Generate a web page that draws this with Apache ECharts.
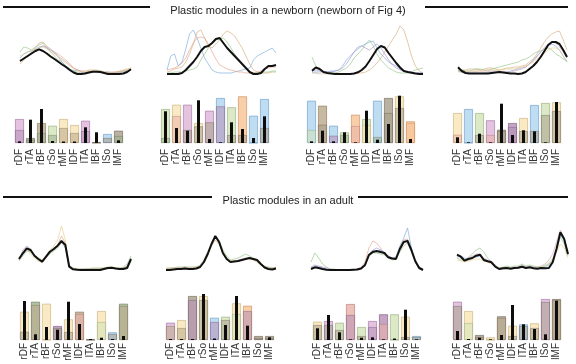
<!DOCTYPE html>
<html>
<head>
<meta charset="utf-8">
<script src="https://cdn.jsdelivr.net/npm/echarts@6/dist/echarts.min.js"></script>
<style>
  html, body { margin: 0; padding: 0; background: #fff; }
  #chart { width: 576px; height: 364px; }
</style>
</head>
<body>
<div id="chart"></div>
<script>
var muscles = ['rDF', 'rTA', 'rBF', 'rSo', 'rMF', 'lDF', 'lTA', 'lBF', 'lSo', 'lMF'];

// ---- newborn activation profiles (black = module, thin = individual muscles)
var nb1Black = [13, 15.5, 18, 20.5, 23, 24.7, 23, 20.5, 17.5, 15, 12.3, 9.5, 7, 4, 1.5, 0, 0, 0.5, 1.5, 2.3, 2.3, 2, 1, 0, 0, 0, 0, 0.5, 2, 4.7];
var nb1Thin = [
    [22, 27, 26, 24, 27, 29, 31, 26, 22, 18, 14, 12, 8, 5, 3, 2, 1, 1, 2, 3, 3, 2, 1, 1, 1, 1, 2, 3, 4, 5],
    [16, 20, 22, 23, 25, 27, 28, 26, 24, 21, 17, 12, 8, 5, 3, 4, 2, 1, 2, 2, 3, 3, 2, 2, 1, 1, 2, 2, 3, 4],
    [10, 14, 18, 22, 26, 31, 32, 28, 25, 22, 20, 17, 14, 10, 6, 4, 3, 3, 4, 4, 4, 3, 2, 2, 2, 2, 3, 4, 5, 6],
    [12, 16, 17, 20, 22, 26, 28, 27, 24, 22, 18, 15, 12, 9, 6, 4, 3, 2, 2, 3, 2, 2, 1, 1, 1, 2, 2, 3, 3, 4],
    [18, 20, 22, 24, 24, 26, 27, 25, 22, 20, 17, 14, 11, 8, 5, 3, 2, 2, 3, 3, 3, 3, 2, 1, 1, 1, 2, 3, 4, 5]
];
var nb1Cols = ['g', 'b', 't', 'p', 'y'];

var nb2Black = [0, 0, 0, 0, 1, 4, 8, 12, 17, 23, 27, 28, 31, 35, 36, 31, 26, 22, 18, 14, 10, 6, 2, 0, 0, 1, 5, 8, 8, 9];
var nb2Thin = [
    [4, 18, 20, 8, 12, 25, 40, 44, 36, 26, 16, 10, 4, 2, 1, 1, 1, 1, 2, 3, 4, 5, 6, 14, 18, 20, 22, 24, 26, 21],
    [2, 3, 5, 6, 7, 12, 20, 30, 42, 44, 36, 28, 26, 30, 34, 40, 43, 41, 38, 32, 26, 18, 10, 4, 2, 1, 1, 1, 2, 2],
    [4, 5, 6, 8, 11, 16, 24, 31, 36, 37, 36, 30, 22, 15, 9, 7, 5, 4, 3, 2, 2, 1, 1, 1, 2, 3, 5, 6, 7, 7],
    [1, 1, 2, 2, 2, 3, 4, 5, 7, 14, 20, 26, 31, 34, 35, 36, 32, 26, 20, 15, 10, 5, 2, 1, 1, 1, 2, 2, 3, 3]
];
var nb2Cols = ['b', 't', 's', 'g'];

var nb3Black = [3.3, 6.5, 5, 2, 1, 0.5, 0, 0, 0, 0, 0, 0.5, 1.7, 4, 7.5, 13, 19, 25, 28, 26.5, 21, 16, 11, 6.5, 3, 2, 1.2, 0.5, 0, 0];
var nb3Thin = [
    [1, 1, 0, 0, 0, 0, 0, 0, 0, 0, 0, 0, 1, 1, 2, 4, 7, 11, 16, 22, 28, 34, 40, 48, 44, 32, 18, 8, 3, 1],
    [17, 8, 4, 2, 1, 1, 1, 2, 4, 6, 10, 16, 20, 24, 30, 34, 28, 20, 14, 10, 6, 4, 2, 1, 1, 1, 2, 4, 5, 6],
    [2, 2, 2, 2, 2, 3, 3, 4, 8, 14, 18, 22, 25, 28, 30, 32, 33, 26, 20, 16, 12, 10, 8, 5, 3, 2, 2, 1, 1, 1],
    [3, 4, 3, 2, 2, 2, 3, 4, 6, 10, 16, 22, 27, 28, 26, 24, 27, 30, 26, 20, 14, 9, 6, 4, 3, 2, 2, 1, 1, 1]
];
var nb3Cols = ['t', 'g', 'b', 'u'];

var nb4Black = [6.7, 3, 1, 0.5, 0.5, 0.5, 0.5, 0.5, 0.5, 1, 1.5, 2, 1.5, 1, 0.5, 0.5, 0, 0.5, 2, 5, 8, 12, 17, 23, 29, 32, 32, 30, 24, 17];
var nb4Thin = [
    [3, 4, 4, 5, 5, 5, 4, 5, 6, 6, 5, 4, 5, 6, 6, 7, 7, 8, 9, 12, 15, 20, 26, 32, 37, 40, 42, 43, 34, 24],
    [5, 4, 3, 3, 4, 5, 5, 4, 4, 5, 6, 7, 8, 9, 10, 11, 12, 14, 15, 17, 20, 22, 23, 25, 26, 24, 20, 18, 15, 13],
    [3, 2, 2, 1, 1, 1, 1, 1, 2, 2, 2, 2, 2, 2, 3, 4, 5, 6, 7, 10, 14, 18, 22, 26, 29, 30, 28, 24, 18, 12],
    [4, 3, 2, 2, 2, 3, 3, 3, 3, 3, 3, 3, 2, 2, 2, 3, 4, 5, 7, 10, 13, 17, 22, 26, 30, 32, 31, 27, 22, 16],
    [2, 2, 2, 3, 3, 3, 3, 3, 4, 4, 4, 4, 4, 5, 5, 5, 6, 7, 8, 10, 12, 15, 18, 21, 24, 26, 26, 24, 18, 12]
];
var nb4Cols = ['t', 'g', 'b', 'p', 'y'];

// ---- adult activation profiles
var ad1Black = [11, 16.7, 21.7, 20, 14.3, 11, 8.3, 13.3, 18.3, 21, 24.3, 29, 25, 3.3, 0.7, 0.3, 0, 0, 0, 0, 0, 0, 1, 2, 2.3, 1.5, 1, 1, 2, 11];
var ad1Thin = [
    [12, 18, 22, 16, 12, 9, 8, 14, 20, 24, 30, 44, 30, 4, 1, 1, 0, 0, 0, 1, 1, 1, 2, 3, 3, 2, 2, 2, 3, 10],
    [10, 20, 24, 21, 15, 11, 9, 13, 17, 20, 24, 28, 22, 3, 1, 1, 1, 1, 1, 1, 1, 1, 1, 2, 2, 2, 1, 2, 4, 12],
    [9, 14, 19, 18, 15, 12, 10, 12, 16, 19, 22, 27, 26, 5, 2, 1, 1, 1, 1, 2, 2, 2, 2, 2, 3, 2, 2, 3, 6, 14],
    [12, 16, 20, 19, 14, 10, 7, 12, 18, 22, 25, 34, 27, 4, 1, 1, 0, 1, 1, 1, 1, 1, 2, 2, 2, 2, 1, 2, 3, 9]
];
var ad1Cols = ['y', 'u', 'g', 't'];

var ad2Black = [0, 0, 0.5, 1, 1, 1.5, 1, 1, 1.5, 3, 8, 16, 26, 34, 28, 17, 11, 8, 8.5, 9, 10, 11, 12, 11, 10, 6, 2.5, 1, 0.5, 1.5];
var ad2Thin = [
    [2, 2, 2, 3, 3, 3, 3, 3, 3, 5, 10, 18, 27, 32, 30, 20, 14, 10, 11, 12, 14, 16, 14, 12, 10, 6, 4, 3, 2, 2],
    [1, 1, 1, 2, 2, 2, 2, 2, 2, 4, 9, 17, 26, 33, 27, 16, 10, 8, 9, 10, 11, 12, 12, 11, 9, 6, 3, 2, 1, 2],
    [1, 2, 2, 2, 2, 3, 2, 2, 3, 4, 9, 15, 24, 30, 26, 17, 12, 9, 9, 9, 10, 11, 11, 10, 8, 5, 3, 2, 2, 3]
];
var ad2Cols = ['g', 'p', 't'];

var ad3Black = [1, 2.7, 2, 1, 0.3, 0, 0, 0, 0, 0, 0, 0.3, 0.5, 1.5, 5, 15, 18, 19, 18, 17, 12.7, 11.5, 11, 21, 28, 29, 20, 9, 2, 0];
var ad3Thin = [
    [1, 2, 2, 1, 1, 0, 0, 0, 0, 0, 0, 0, 1, 3, 8, 22, 29, 27, 22, 16, 14, 12, 12, 22, 30, 31, 18, 8, 2, 1],
    [2, 4, 3, 2, 1, 0, 0, 0, 0, 0, 0, 0, 1, 2, 6, 16, 20, 18, 20, 18, 14, 12, 13, 24, 32, 42, 22, 8, 3, 1],
    [8, 17, 12, 6, 3, 1, 1, 0, 0, 0, 0, 0, 1, 2, 5, 14, 17, 17, 16, 15, 12, 10, 11, 18, 24, 27, 18, 7, 2, 1],
    [3, 5, 4, 3, 2, 1, 0, 0, 0, 0, 0, 0, 1, 2, 6, 16, 20, 22, 20, 17, 13, 12, 12, 20, 27, 30, 20, 9, 3, 1]
];
var ad3Cols = ['s', 'b', 'g', 'u'];

var ad4Black = [15.3, 13.3, 9.3, 11, 12, 14.3, 15.3, 10, 8.7, 7.7, 3.3, 1, 1.7, 2, 1.3, 2, 2.3, 3.3, 2, 2.7, 1.7, 1.3, 2, 1.7, 2, 7.7, 21, 37.7, 31, 16];
var ad4Thin = [
    [14, 12, 10, 12, 14, 16, 16, 12, 10, 9, 5, 2, 2, 3, 2, 3, 3, 5, 3, 4, 3, 3, 4, 6, 10, 16, 28, 40, 32, 17],
    [12, 10, 10, 13, 16, 20, 22, 18, 12, 8, 4, 2, 3, 4, 3, 4, 4, 6, 4, 5, 4, 3, 3, 4, 6, 10, 20, 33, 26, 14],
    [13, 14, 12, 11, 12, 13, 14, 11, 9, 7, 3, 1, 1, 2, 2, 2, 3, 4, 2, 3, 2, 2, 2, 3, 5, 9, 22, 35, 30, 15],
    [10, 9, 8, 9, 10, 11, 11, 9, 8, 6, 3, 1, 1, 2, 2, 2, 2, 3, 2, 2, 2, 2, 3, 5, 7, 12, 18, 26, 22, 12]
];
var ad4Cols = ['p', 'g', 'b', 'y'];

// ---- muscle weights: outer layer, inner layer, black = activation per muscle
var nb1Outer = [24, 5, 20, 17.3, 24, 18, 22.3, 1, 9, 12.3];
var nb1OuterCols = ['p', 'k', 't', 'g', 'y', 'y', 'p', 'k', 'b', 'k'];
var nb1Inner = [13, 3, 10, 8, 15, 10, 12, 0, 5, 7];
var nb1InnerCols = ['u', 'm', 'm', 'm', 't', 't', 'u', 'k', 'k', 'm'];
var nb1Bars = [1.7, 23.3, 34, 2, 1.5, 1.5, 15.7, 10.7, 0, 2.7];

var nb2Outer = [34, 38.3, 38.3, 20, 32.3, 45, 35.7, 46.7, 27.3, 44];
var nb2OuterCols = ['g', 'y', 'p', 'y', 'p', 'b', 'g', 'o', 'b', 'b'];
var nb2Inner = [5, 27, 13, 16.7, 20.7, 36.7, 8, 8, 0, 15];
var nb2InnerCols = ['m', 's', 'k', 'k', 'k', 'u', 'k', 'k', 'b', 'k'];
var nb2Bars = [31.7, 15, 12.3, 42.7, 4, 0.7, 20.7, 14, 5, 26.7];

var nb3Outer = [42.3, 37.3, 17.3, 10.7, 28.3, 24, 42.3, 45, 46.7, 21.7];
var nb3OuterCols = ['b', 't', 'b', 'g', 'o', 'g', 'b', 'k', 'y', 'o'];
var nb3Inner = [13, 18.3, 7.3, 8, 17, 18, 6, 30, 35, 20];
var nb3InnerCols = ['g', 'k', 'u', 'm', 's', 'y', 'm', 'k', 'k', 'o'];
var nb3Bars = [1.7, 12.3, 1.7, 10.7, 0.7, 32.3, 3.3, 19, 47.3, 4];

var nb4Outer = [30, 34, 30, 22.7, 13.3, 20, 25, 38, 40, 40.7];
var nb4OuterCols = ['y', 'b', 'g', 'p', 'k', 'u', 'y', 'b', 'g', 'y'];
var nb4Inner = [8.3, 0, 8, 8, 12, 16, 12, 12, 28, 32];
var nb4InnerCols = ['s', 'b', 'k', 's', 'k', 'u', 'k', 'k', 'k', 'k'];
var nb4Bars = [5.7, 0.7, 9.3, 0.7, 39.3, 8, 12.7, 11.7, 0.7, 41];

var ad1Outer = [28.3, 38.3, 36.3, 14, 20.7, 28.3, 0.7, 29, 7.7, 36.3];
var ad1OuterCols = ['y', 'm', 'y', 'u', 'y', 't', 'k', 'y', 'b', 'm'];
var ad1Inner = [8.3, 35, 0, 12, 8, 26, 0, 18, 6, 34];
var ad1InnerCols = ['k', 't', 'y', 'k', 'k', 's', 'k', 'g', 'k', 't'];
var ad1Bars = [39, 5.7, 13, 10.3, 38.3, 16, 1, 2.3, 1, 4];

var ad2Outer = [17.3, 20, 44, 44, 22.3, 23.3, 36.7, 34.3, 4, 4];
var ad2OuterCols = ['p', 'y', 'k', 'y', 'b', 'g', 'y', 'o', 'k', 'k'];
var ad2Inner = [14, 12, 40, 40, 18, 20, 26, 29, 2, 2];
var ad2InnerCols = ['t', 't', 'u', 'k', 'u', 'k', 'g', 'u', 'k', 'k'];
var ad2Bars = [1, 1, 1, 46, 1.5, 15, 44, 14.3, 0, 2.7];

var ad3Outer = [18.3, 19, 17.3, 36, 13, 19, 25.7, 25.7, 23.3, 4];
var ad3OuterCols = ['y', 'p', 'g', 's', 'g', 'p', 'u', 'g', 'y', 'b'];
var ad3Inner = [15, 15, 10, 25, 4, 13, 16, 0, 3, 3];
var ad3InnerCols = ['k', 'k', 'k', 'u', 'k', 'u', 's', 'g', 'k', 'k'];
var ad3Bars = [11.7, 25, 7.7, 0.7, 2.3, 2.7, 0.7, 1.5, 30.3, 0.7];

var ad4Outer = [38.3, 29, 5, 2.7, 23.7, 14.3, 15.7, 16.7, 41, 41];
var ad4OuterCols = ['p', 'y', 'k', 'y', 'k', 'y', 'b', 'y', 'p', 'k'];
var ad4Inner = [34, 17, 3, 0, 22, 4, 14, 12, 38, 40];
var ad4InnerCols = ['k', 'g', 'k', 'y', 't', 'k', 'k', 'k', 'k', 't'];
var ad4Bars = [9, 1, 2.3, 0.7, 5, 35, 15.7, 11, 5.7, 39.3];

var fills = {p: '#dcb4d8', u: '#b58fb5', t: '#b9a78b', y: '#f8e5b5', g: '#d3e3b8', b: '#aed3ef',
    o: '#f6c393', k: '#a89e8a', s: '#e9b2a8', m: '#9fb08f'};
var edges = {p: '#a070a0', u: '#7d5a82', t: '#8a7658', y: '#c8b07a', g: '#94ad7a', b: '#6e9cc4',
    o: '#cc8e5a', k: '#6f6656', s: '#b87a70', m: '#6c7d5c'};
var lineCols = {g: '#8cbf7c', b: '#6fa3d8', t: '#d2a573', p: '#d99ab9', y: '#e3cb82', s: '#e39a80', u: '#a48fc8'};

var font = 'Liberation Sans, Arial, sans-serif';
var grids = [], xAxes = [], yAxes = [], series = [];
var steps = [];
for (var i = 0; i < 30; i++) steps.push(i);

function addLinePanel(left, width, top, height, black, thin, cols) {
    var gi = grids.length;
    grids.push({left: left, width: width, top: top, height: height});
    var xi = xAxes.length;
    xAxes.push({gridIndex: gi, type: 'category', boundaryGap: false, data: steps, show: false});
    var yi = yAxes.length;
    yAxes.push({gridIndex: gi, type: 'value', min: 0, max: height, show: false});
    for (var j = 0; j < thin.length; j++) {
        series.push({
            type: 'line', xAxisIndex: xi, yAxisIndex: yi, data: thin[j], symbol: 'none', silent: true,
            lineStyle: {width: 0.8, color: lineCols[cols[j]], opacity: 0.75}
        });
    }
    series.push({
        type: 'line', xAxisIndex: xi, yAxisIndex: yi, data: black, symbol: 'none', silent: true, z: 4,
        lineStyle: {width: 2, color: '#111'}
    });
}

function layer(vals, cols) {
    return vals.map(function (v, k) {
        return {value: v, itemStyle: {color: fills[cols[k]], borderColor: edges[cols[k]]}};
    });
}

function addBarPanel(left, top, labelGap, outer, outerCols, inner, innerCols, bars) {
    var gi = grids.length;
    grids.push({left: left, width: 110, top: top, height: 50});
    var xi = xAxes.length;
    xAxes.push({
        gridIndex: gi, type: 'category', data: muscles,
        axisLine: {show: false}, axisTick: {show: false},
        axisLabel: {rotate: 90, interval: 0, margin: labelGap, fontSize: 10, color: '#333', fontFamily: font}
    });
    // second axis so the thin black bars stay centred on the wide ones
    xAxes.push({gridIndex: gi, type: 'category', data: muscles, show: false});
    var yi = yAxes.length;
    yAxes.push({gridIndex: gi, type: 'value', min: 0, max: 50, show: false});
    series.push({type: 'bar', xAxisIndex: xi, yAxisIndex: yi, barWidth: 9, barGap: '-100%', silent: true,
        itemStyle: {opacity: 0.8, borderWidth: 0.8}, data: layer(outer, outerCols)});
    series.push({type: 'bar', xAxisIndex: xi, yAxisIndex: yi, barWidth: 9, barGap: '-100%', silent: true,
        itemStyle: {opacity: 0.55, borderWidth: 0.8}, data: layer(inner, innerCols)});
    series.push({type: 'bar', xAxisIndex: xi + 1, yAxisIndex: yi, barWidth: 3, silent: true, z: 4,
        itemStyle: {color: '#0d0d0d'}, data: bars});
}

addLinePanel(20, 111, 18, 56, nb1Black, nb1Thin, nb1Cols);
addLinePanel(167, 109, 18, 56, nb2Black, nb2Thin, nb2Cols);
addLinePanel(312, 111, 18, 56, nb3Black, nb3Thin, nb3Cols);
addLinePanel(458, 109, 18, 56, nb4Black, nb4Thin, nb4Cols);
addLinePanel(19, 112, 218, 52, ad1Black, ad1Thin, ad1Cols);
addLinePanel(166, 110, 218, 52, ad2Black, ad2Thin, ad2Cols);
addLinePanel(311, 112, 218, 52, ad3Black, ad3Thin, ad3Cols);
addLinePanel(457, 111, 218, 52, ad4Black, ad4Thin, ad4Cols);

addBarPanel(14, 93, 6, nb1Outer, nb1OuterCols, nb1Inner, nb1InnerCols, nb1Bars);
addBarPanel(160, 93, 6, nb2Outer, nb2OuterCols, nb2Inner, nb2InnerCols, nb2Bars);
addBarPanel(306, 93, 6, nb3Outer, nb3OuterCols, nb3Inner, nb3InnerCols, nb3Bars);
addBarPanel(452, 93, 6, nb4Outer, nb4OuterCols, nb4Inner, nb4InnerCols, nb4Bars);
addBarPanel(19, 290, 3, ad1Outer, ad1OuterCols, ad1Inner, ad1InnerCols, ad1Bars);
addBarPanel(165, 290, 3, ad2Outer, ad2OuterCols, ad2Inner, ad2InnerCols, ad2Bars);
addBarPanel(312, 290, 3, ad3Outer, ad3OuterCols, ad3Inner, ad3InnerCols, ad3Bars);
addBarPanel(452, 290, 3, ad4Outer, ad4OuterCols, ad4Inner, ad4InnerCols, ad4Bars);

var rule = {stroke: '#111', lineWidth: 2};
var option = {
    animation: false,
    backgroundColor: '#fff',
    title: [{
        text: 'Plastic modules in a newborn (newborn of Fig 4)', left: 'center', top: 0,
        textStyle: {fontSize: 11, fontWeight: 'normal', color: '#222', fontFamily: font}
    }, {
        text: 'Plastic modules in an adult', left: 'center', top: 190,
        textStyle: {fontSize: 11, fontWeight: 'normal', color: '#222', fontFamily: font}
    }],
    graphic: [
        {type: 'line', shape: {x1: 3, y1: 7, x2: 150, y2: 7}, style: rule},
        {type: 'line', shape: {x1: 425, y1: 7, x2: 568, y2: 7}, style: rule},
        {type: 'line', shape: {x1: 3, y1: 197, x2: 212, y2: 197}, style: rule},
        {type: 'line', shape: {x1: 358, y1: 197, x2: 568, y2: 197}, style: rule}
    ],
    grid: grids,
    xAxis: xAxes,
    yAxis: yAxes,
    series: series
};

var myChart = echarts.init(document.getElementById('chart'));
myChart.setOption(option);
</script>
</body>
</html>
